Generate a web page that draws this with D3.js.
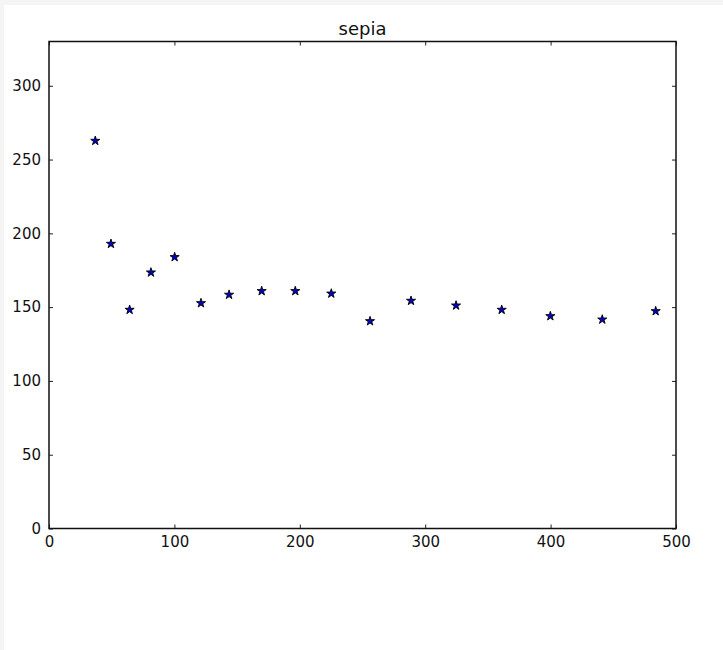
<!DOCTYPE html>
<html>
<head>
<meta charset="utf-8">
<script src="https://cdnjs.cloudflare.com/ajax/libs/d3/7.8.5/d3.min.js"></script>
<style>
  body { margin: 0; background: #f5f5f5; }
  #chart { position: absolute; left: 4px; top: 5px; }
  text { font-family: "DejaVu Sans", sans-serif; fill: #111; }
</style>
</head>
<body>
<div id="chart"></div>
<script>
var width = 719, height = 645;
var ox = 4, oy = 5; // offset of the white figure in the page

var xValues = [36.9, 49.4, 64.3, 81.3, 100.2, 121.2, 143.6, 169.6, 196.4, 225.1, 256, 288.7, 324.6, 361, 399.8, 441.2, 483.8];
var yValues = [262.7, 192.9, 148.2, 173.5, 183.9, 152.7, 158.4, 160.9, 160.9, 159.2, 140.5, 154.3, 151.1, 148.2, 143.9, 141.6, 147.3];
var xTicks = [0, 100, 200, 300, 400, 500];
var yTicks = [0, 50, 100, 150, 200, 250, 300];
var title = 'sepia';

var pLeft = 49 - ox, pRight = 676 - ox, pTop = 41.5 - oy, pBottom = 528.5 - oy;

var svg = d3.select('#chart')
  .append('svg')
  .attr('width', width + 'px')
  .attr('height', height + 'px')
  .style('background', '#fff');

var xScale = d3.scaleLinear().domain([0, 500]).range([pLeft, pRight]);
var yScale = d3.scaleLinear().domain([0, 330]).range([pBottom, pTop]);

// ticks inside, on all four sides
var tickLen = 4;
svg.append('g')
  .attr('transform', 'translate(0,' + pBottom + ')')
  .call(d3.axisBottom(xScale).tickValues(xTicks).tickSizeInner(-tickLen).tickSizeOuter(0).tickPadding(8))
  .call(function (g) { g.select('.domain').remove(); })
  .selectAll('text').style('font-size', '15px');

svg.append('g')
  .attr('transform', 'translate(0,' + pTop + ')')
  .call(d3.axisTop(xScale).tickValues(xTicks).tickSizeInner(-tickLen).tickSizeOuter(0).tickFormat(''))
  .call(function (g) { g.select('.domain').remove(); });

svg.append('g')
  .attr('transform', 'translate(' + pLeft + ',0)')
  .call(d3.axisLeft(yScale).tickValues(yTicks).tickSizeInner(-tickLen).tickSizeOuter(0).tickPadding(8))
  .call(function (g) { g.select('.domain').remove(); })
  .selectAll('text').style('font-size', '15px');

svg.append('g')
  .attr('transform', 'translate(' + pRight + ',0)')
  .call(d3.axisRight(yScale).tickValues(yTicks).tickSizeInner(-tickLen).tickSizeOuter(0).tickFormat(''))
  .call(function (g) { g.select('.domain').remove(); });

svg.selectAll('.tick line').attr('stroke', '#222');

svg.append('rect')
  .attr('x', pLeft)
  .attr('y', pTop)
  .attr('width', pRight - pLeft)
  .attr('height', pBottom - pTop)
  .attr('fill', 'none')
  .attr('stroke', '#111')
  .attr('stroke-width', 1.5);

var star = d3.symbol().type(d3.symbolStar).size(26);

svg.selectAll('.dot')
  .data(xValues)
  .enter()
  .append('path')
  .attr('class', 'dot')
  .attr('d', star)
  .attr('transform', function (d, i) {
    return 'translate(' + xScale(d) + ',' + yScale(yValues[i]) + ')';
  })
  .attr('fill', '#0000cc')
  .attr('stroke', '#000')
  .attr('stroke-width', 0.9);

svg.append('text')
  .attr('x', (pLeft + pRight) / 2)
  .attr('y', pTop - 7)
  .attr('text-anchor', 'middle')
  .style('font-size', '18px')
  .text(title);
</script>
</body>
</html>
